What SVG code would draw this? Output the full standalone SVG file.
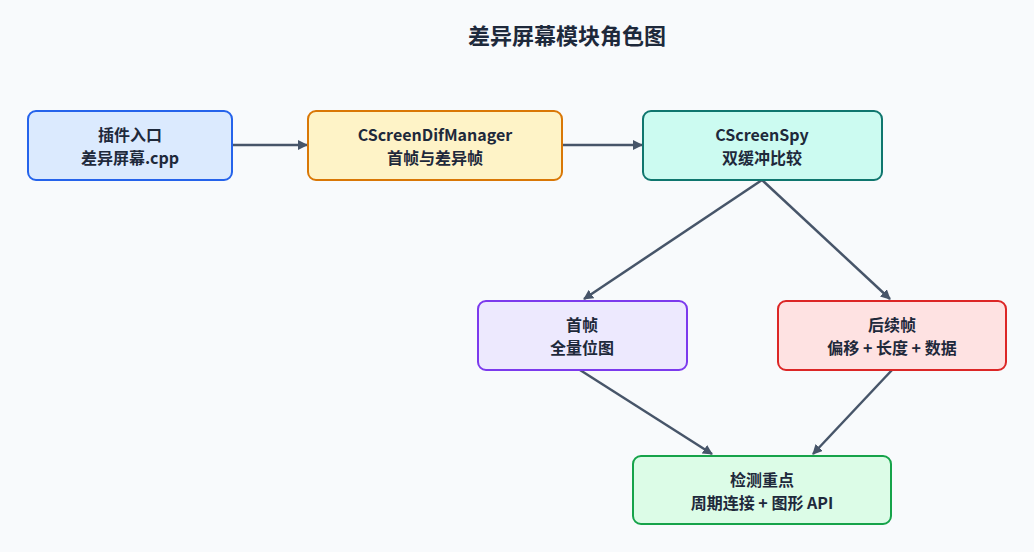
<svg xmlns="http://www.w3.org/2000/svg" width="1034" height="552" viewBox="0 0 1034 552">
<style>
text{font-family:"Noto Sans CJK SC","Noto Sans",sans-serif;font-weight:bold;fill:#1e293b;text-anchor:middle}
.t{font-size:16px}
.e{stroke:#475569;stroke-width:2.5;fill:none;marker-end:url(#a)}
rect{stroke-width:2}
</style>
<defs><marker id="a" markerWidth="10" markerHeight="10" refX="9" refY="5" orient="auto" markerUnits="userSpaceOnUse"><path d="M0,0L10,5L0,10z" fill="#475569"/></marker></defs>
<rect width="1034" height="552" fill="#f8fafc"/>
<text x="567" y="44" style="font-size:22px">差异屏幕模块角色图</text>
<g id="edges">
<path class="e" d="M232,145H307"/>
<path class="e" d="M562,145H642"/>
<path class="e" d="M762,180L584,299"/>
<path class="e" d="M762,180L890,299"/>
<path class="e" d="M580,370L712,454"/>
<path class="e" d="M892,370L813,454"/>
</g>
<g id="n1"><rect x="28" y="111" width="204" height="69" rx="8" fill="#dbeafe" stroke="#2563eb"/><text class="t" x="130" y="141">插件入口</text><text class="t" x="130" y="164">差异屏幕.cpp</text></g>
<g id="n2"><rect x="308" y="111" width="254" height="69" rx="8" fill="#fef3c7" stroke="#d97706"/><text class="t" x="435" y="141">CScreenDifManager</text><text class="t" x="435" y="164">首帧与差异帧</text></g>
<g id="n3"><rect x="643" y="111" width="239" height="69" rx="8" fill="#ccfbf1" stroke="#0f766e"/><text class="t" x="762" y="141">CScreenSpy</text><text class="t" x="762" y="164">双缓冲比较</text></g>
<g id="n4"><rect x="478" y="301" width="209" height="69" rx="8" fill="#ede9fe" stroke="#7c3aed"/><text class="t" x="582" y="331">首帧</text><text class="t" x="582" y="354">全量位图</text></g>
<g id="n5"><rect x="778" y="301" width="228" height="69" rx="8" fill="#fee2e2" stroke="#dc2626"/><text class="t" x="892" y="331">后续帧</text><text class="t" x="892" y="354">偏移 + 长度 + 数据</text></g>
<g id="n6"><rect x="633" y="456" width="258" height="68" rx="8" fill="#dcfce7" stroke="#16a34a"/><text class="t" x="762" y="486">检测重点</text><text class="t" x="762" y="509">周期连接 + 图形 API</text></g>
</svg>
